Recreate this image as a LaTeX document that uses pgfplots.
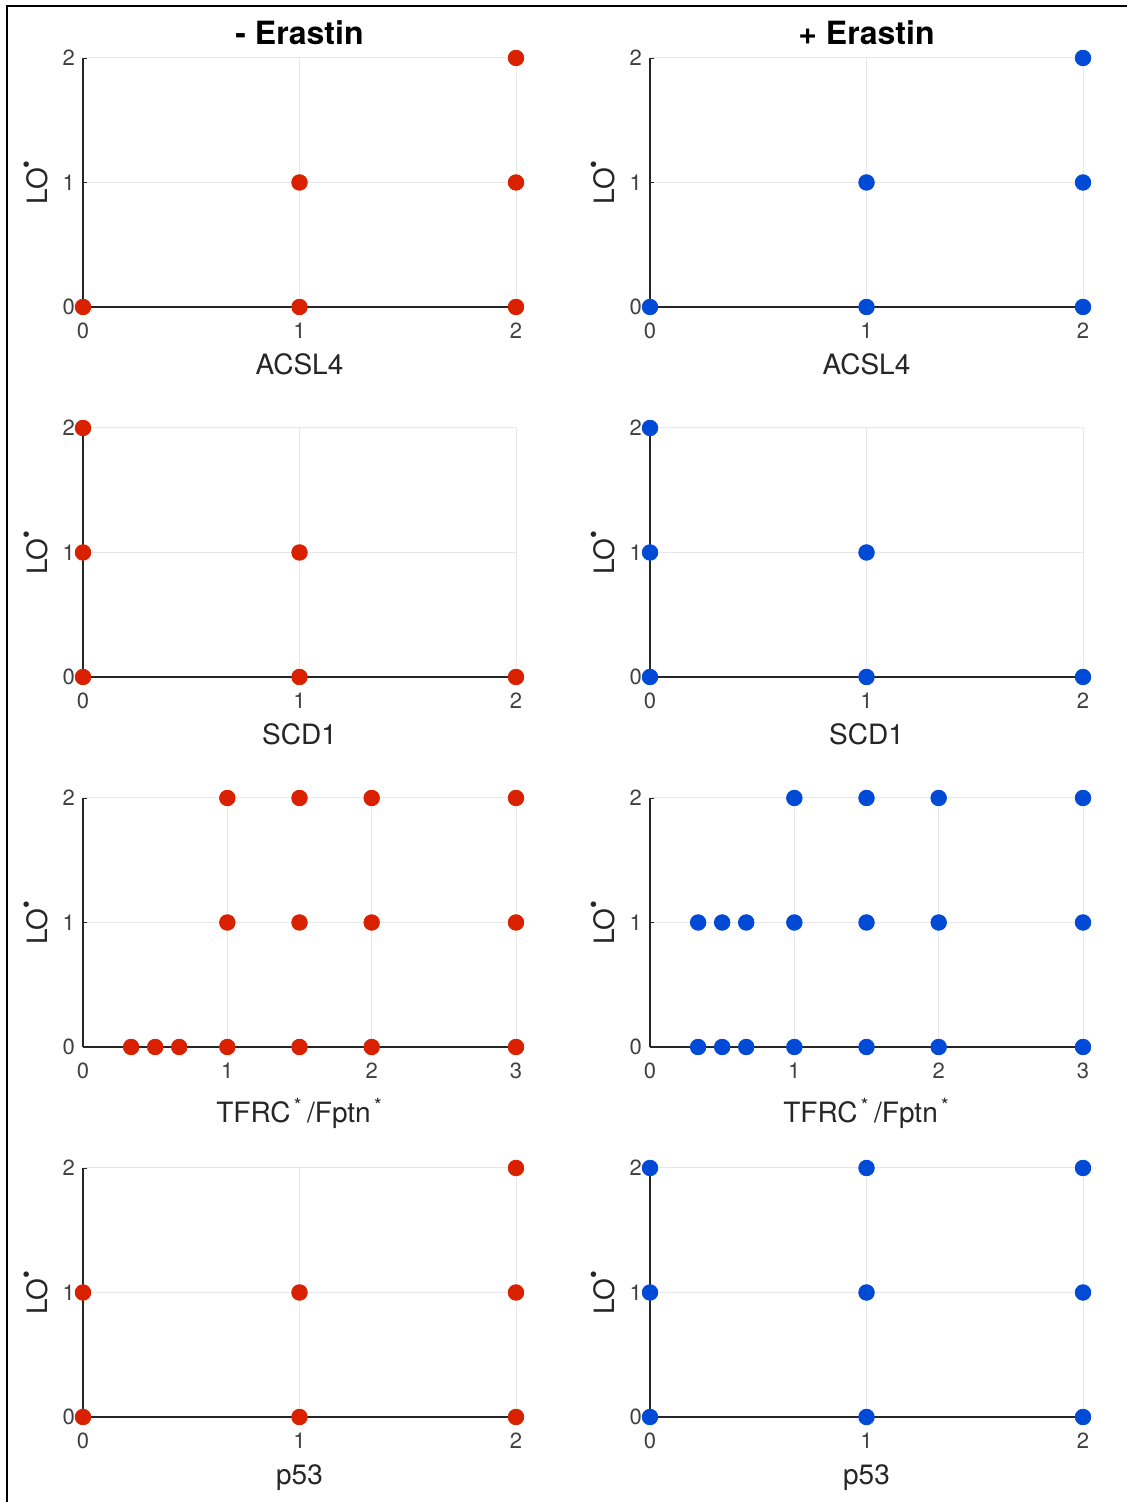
\documentclass[border=0pt]{standalone}
\usepackage{pgfplots}
\pgfplotsset{compat=1.18}
\usepackage{fontspec}
\setmainfont{TeX Gyre Heros}
\definecolor{myred}{RGB}{217,33,0}
\definecolor{myblue}{RGB}{0,74,214}
\definecolor{axgray}{RGB}{38,38,38}
\definecolor{ticklab}{RGB}{64,64,64}
\newcommand{\LOlab}{LO\raisebox{0.95ex}{\fontsize{11}{11}\selectfont\textbullet}}
\pgfplotsset{
  panel/.style={
    width=216.5pt, height=124.5pt, scale only axis,
    xmin=0, xmax=2, ymin=0, ymax=2,
    xtick={0,1,2}, ytick={0,1,2},
    axis lines*=left,
    axis line style={axgray, line width=0.6pt},
    grid=major, grid style={gray!18, line width=0.5pt},
    tick align=inside, major tick length=2pt, tick style={axgray, line width=0.4pt},
    clip=false,
    /pgf/number format/assume math mode=true,
    ticklabel style={font=\fontsize{11}{13}\selectfont, text=ticklab},
    xticklabel style={yshift=-4.5pt},
    yticklabel style={xshift=-0.5pt},
    ylabel={\LOlab},
    ylabel style={at={(axis description cs:-0.081,0.5)}, anchor=base, font=\fontsize{14}{16}\selectfont, text=axgray},
    xlabel style={at={(axis description cs:0.5,-0.273)}, anchor=base, font=\fontsize{14}{16}\selectfont, text=axgray},
    title style={at={(axis description cs:0.5,1.004)}, anchor=base, font=\bfseries\fontsize{16}{18}\selectfont},
  },
  redm/.style={only marks, mark=*, mark size=3.9pt, color=myred},
  bluem/.style={only marks, mark=*, mark size=3.9pt, color=myblue},
}
\begin{document}
\begin{tikzpicture}[x=1pt,y=1pt]
\useasboundingbox (0,0) rectangle (563.5,751);
\draw[line width=1pt, black] (3.5,0) -- (3.5,748) -- (563.5,748);

% Row 1: ACSL4
\begin{axis}[panel, at={(41.5pt,597.5pt)}, anchor=south west, xlabel={ACSL4}, title={- Erastin}]
\addplot[redm] coordinates {(0,0) (1,0) (1,1) (2,0) (2,1) (2,2)};
\end{axis}
\begin{axis}[panel, at={(325pt,597.5pt)}, anchor=south west, xlabel={ACSL4}, title={+ Erastin}]
\addplot[bluem] coordinates {(0,0) (1,0) (1,1) (2,0) (2,1) (2,2)};
\end{axis}

% Row 2: SCD1
\begin{axis}[panel, at={(41.5pt,412.5pt)}, anchor=south west, xlabel={SCD1}]
\addplot[redm] coordinates {(0,0) (0,1) (0,2) (1,0) (1,1) (2,0)};
\end{axis}
\begin{axis}[panel, at={(325pt,412.5pt)}, anchor=south west, xlabel={SCD1}]
\addplot[bluem] coordinates {(0,0) (0,1) (0,2) (1,0) (1,1) (2,0)};
\end{axis}

% Row 3: TFRC*/Fptn*
\begin{axis}[panel, at={(41.5pt,227.5pt)}, anchor=south west, xmax=3, xtick={0,1,2,3},
  xlabel style={at={(axis description cs:0.5,-0.305)}},
  xlabel={TFRC\textsuperscript{\,*}\,/Fptn\textsuperscript{\,*}}]
\addplot[redm] coordinates {(0.3333,0) (0.5,0) (0.6667,0) (1,0) (1.5,0) (2,0) (3,0)
  (1,1) (1.5,1) (2,1) (3,1) (1,2) (1.5,2) (2,2) (3,2)};
\end{axis}
\begin{axis}[panel, at={(325pt,227.5pt)}, anchor=south west, xmax=3, xtick={0,1,2,3},
  xlabel style={at={(axis description cs:0.5,-0.305)}},
  xlabel={TFRC\textsuperscript{\,*}\,/Fptn\textsuperscript{\,*}}]
\addplot[bluem] coordinates {(0.3333,0) (0.5,0) (0.6667,0) (1,0) (1.5,0) (2,0) (3,0)
  (0.3333,1) (0.5,1) (0.6667,1) (1,1) (1.5,1) (2,1) (3,1) (1,2) (1.5,2) (2,2) (3,2)};
\end{axis}

% Row 4: p53
\begin{axis}[panel, at={(41.5pt,42.5pt)}, anchor=south west, xlabel={p53}]
\addplot[redm] coordinates {(0,0) (0,1) (1,0) (1,1) (2,0) (2,1) (2,2)};
\end{axis}
\begin{axis}[panel, at={(325pt,42.5pt)}, anchor=south west, xlabel={p53}]
\addplot[bluem] coordinates {(0,0) (0,1) (0,2) (1,0) (1,1) (1,2) (2,0) (2,1) (2,2)};
\end{axis}
\end{tikzpicture}
\end{document}
